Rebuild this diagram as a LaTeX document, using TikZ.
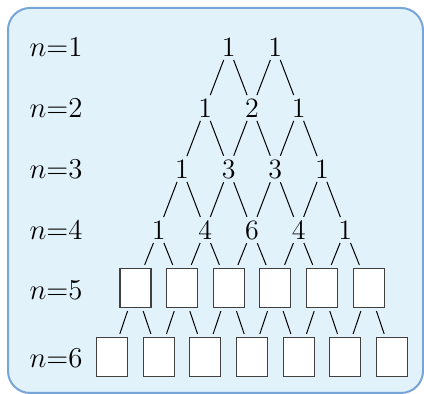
\documentclass[tikz,border=0pt]{standalone}
\definecolor{panelfill}{RGB}{225,242,251}
\definecolor{panelline}{RGB}{120,165,215}

\begin{document}
\begin{tikzpicture}[
  x=0.5pt, y=-0.5pt,
  num/.style={inner sep=1.6pt, font=\fontsize{14}{16}\selectfont},
  lab/.style={inner sep=0pt, font=\fontsize{14}{16}\selectfont},
  blank/.style={draw=black!75, fill=white, line width=0.65pt, minimum width=15.5pt,
                minimum height=19.5pt, inner sep=0pt, outer sep=1.8pt},
  link/.style={line width=0.5pt}
]

% Panel
\useasboundingbox (0,0) rectangle (424,394);
\draw[panelline, fill=panelfill, line width=1pt, rounded corners=11pt] (8,8) rectangle (423,393);

% Row labels
\node[lab] (n1) at (56,47) {$n{=}1$};
\node[lab] (n2) at (56,108) {$n{=}2$};
\node[lab] (n3) at (56,169) {$n{=}3$};
\node[lab] (n4) at (56,230) {$n{=}4$};
\node[lab] (n5) at (56,290) {$n{=}5$};
\node[lab] (n6) at (56,358) {$n{=}6$};

% Known rows
\foreach \v [count=\j] in {1,1}
  \node[num] (a-1-\j) at ({252+(2*\j-3)*23.33},47) {\v};
\foreach \v [count=\j] in {1,2,1}
  \node[num] (a-2-\j) at ({252+(2*\j-4)*23.33},108) {\v};
\foreach \v [count=\j] in {1,3,3,1}
  \node[num] (a-3-\j) at ({252+(2*\j-5)*23.33},169) {\v};
\foreach \v [count=\j] in {1,4,6,4,1}
  \node[num] (a-4-\j) at ({252+(2*\j-6)*23.33},230) {\v};

% Empty boxes
\foreach \j in {1,...,6}
  \node[blank] (a-5-\j) at ({252+(2*\j-7)*23.33},288) {};
\foreach \j in {1,...,7}
  \node[blank] (a-6-\j) at ({252+(2*\j-8)*23.33},357) {};

% Links
\foreach \r in {1,...,5}{
  \pgfmathtruncatemacro{\s}{\r+1}
  \foreach \j in {1,...,\s}{
    \pgfmathtruncatemacro{\k}{\j+1}
    \draw[link] (a-\r-\j) -- (a-\s-\j);
    \draw[link] (a-\r-\j) -- (a-\s-\k);
  }
}

\end{tikzpicture}
\end{document}
